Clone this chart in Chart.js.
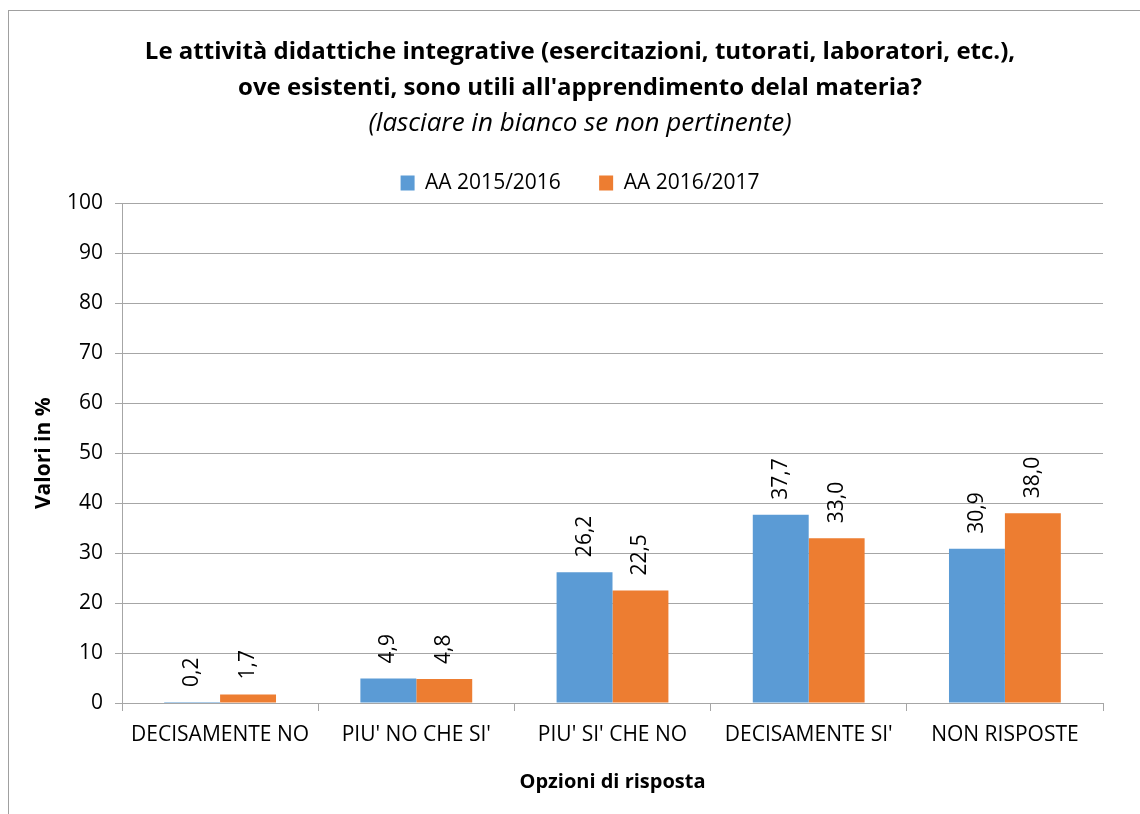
<!DOCTYPE html>
<html><head><meta charset="utf-8">
<script src="https://cdn.jsdelivr.net/npm/chart.js@4.4.0/dist/chart.umd.min.js"></script>
<style>
html,body{margin:0;padding:0;background:#fff;}
#frame{position:absolute;left:8px;top:10px;width:1140px;height:820px;border-left:1px solid #a0a0a0;border-top:1px solid #a0a0a0;box-sizing:border-box;}
#wrap{position:absolute;left:0;top:0;width:1140px;height:814px;}
</style></head>
<body>
<div id="frame"></div>
<div id="wrap"><canvas id="c" width="1140" height="814"></canvas></div>
<script>
const categories = ["DECISAMENTE NO", "PIU' NO CHE SI'", "PIU' SI' CHE NO", "DECISAMENTE SI'", "NON RISPOSTE"];
const series2015 = [0.2, 4.9, 26.2, 37.7, 30.9];
const series2016 = [1.7, 4.8, 22.5, 33.0, 38.0];
const seriesNames = ["AA 2015/2016", "AA 2016/2017"];
const yTicks = [0, 10, 20, 30, 40, 50, 60, 70, 80, 90, 100];

const FONT = "'Open Sans', Lato, 'Liberation Sans', sans-serif";

const labelPlugin = {
  id: 'rotLabels',
  afterDatasetsDraw(chart) {
    const ctx = chart.ctx;
    chart.data.datasets.forEach((ds, di) => {
      const meta = chart.getDatasetMeta(di);
      meta.data.forEach((bar, i) => {
        const txt = ds.data[i].toFixed(1).replace('.', ',');
        ctx.save();
        ctx.translate(bar.x, bar.y - 15);
        ctx.rotate(-Math.PI / 2);
        ctx.font = "21px " + FONT;
        ctx.fillStyle = '#000';
        ctx.textAlign = 'left';
        ctx.textBaseline = 'middle';
        ctx.fillText(txt, 0, 0);
        ctx.restore();
      });
    });
  }
};

new Chart(document.getElementById('c'), {
  type: 'bar',
  data: {
    labels: categories,
    datasets: [
      { label: seriesNames[0], data: series2015, backgroundColor: '#5b9bd5', categoryPercentage: 0.57, barPercentage: 1.0, yAxisID: 'y' },
      { label: seriesNames[1], data: series2016, backgroundColor: '#ed7d31', categoryPercentage: 0.57, barPercentage: 1.0, yAxisID: 'y' }
    ]
  },
  options: {
    responsive: false,
    animation: false,
    layout: { padding: { left: 20, right: 0, top: 0, bottom: 10 } },
    plugins: {
      title: {
        display: true,
        text: ["Le attività didattiche integrative (esercitazioni, tutorati, laboratori, etc.),", "ove esistenti, sono utili all'apprendimento delal materia?"],
        font: { family: FONT, size: 24, weight: 'bold', lineHeight: 1.5 },
        color: '#000',
        padding: { top: 34, bottom: 0 }
      },
      subtitle: {
        display: true,
        text: "(lasciare in bianco se non pertinente)",
        font: { family: FONT, size: 26, style: 'italic', lineHeight: 36 / 26 },
        color: '#000',
        padding: { top: 0, bottom: 19.5 }
      },
      legend: {
        display: true,
        labels: {
          font: { family: FONT, size: 21 },
          color: '#000',
          boxWidth: 14,
          boxHeight: 15,
          padding: 11,
          generateLabels: (chart) => {
            const items = Chart.defaults.plugins.legend.labels.generateLabels(chart);
            items.forEach((it, i) => { if (i < items.length - 1) it.text = it.text + '\u00a0\u00a0\u00a0\u00a0\u00a0'; });
            return items;
          }
        }
      },
      tooltip: { enabled: false }
    },
    scales: {
      x: {
        afterFit: s => { s.height = 101; },
        grid: { display: true, drawOnChartArea: false, drawTicks: true, tickLength: 8, offset: true, color: '#a6a6a6' },
        border: { display: true, color: '#a6a6a6' },
        ticks: { font: { family: FONT, size: 21 }, color: '#000', padding: 11, maxRotation: 0 },
        title: { display: true, text: 'Opzioni di risposta', font: { family: FONT, size: 20, weight: 'bold' }, color: '#000', padding: { top: 0, bottom: 10 } }
      },
      y: {
        min: 0, max: 100,
        afterFit: s => { s.width = 102; },
        afterBuildTicks: s => { s.ticks = yTicks.map(v => ({ value: v })); },
        grid: { color: '#a6a6a6', drawTicks: true, tickLength: 7 },
        border: { display: true, color: '#a6a6a6' },
        ticks: { font: { family: FONT, size: 21 }, color: '#000', padding: 12 },
        title: { display: true, text: 'Valori in %', font: { family: FONT, size: 21, weight: 'bold' }, color: '#000', padding: { top: 11, bottom: 0 } }
      },
      yR: {
        type: 'linear',
        position: 'right',
        display: true,
        afterFit: s => { s.width = 37; },
        grid: { display: false, drawTicks: false },
        border: { display: false },
        ticks: { display: false }
      }
    }
  },
  plugins: [labelPlugin]
});
</script>
</body></html>
